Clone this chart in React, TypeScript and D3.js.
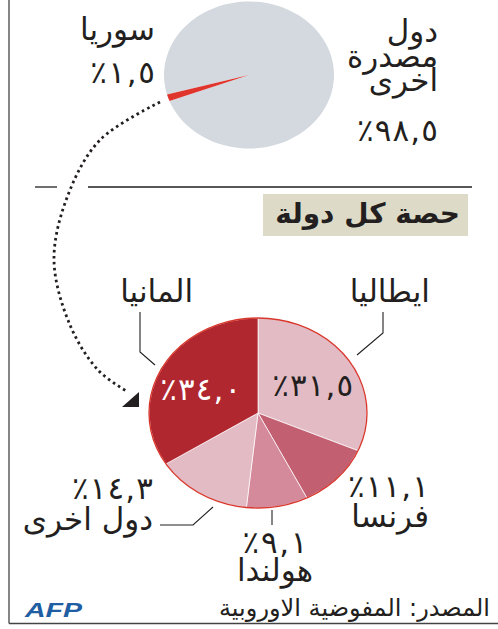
import React from 'react';
import * as d3 from 'd3';

const W = 498;
const H = 629;

// top pie: Syria vs other exporting countries
const overviewLabels = ['دول مصدرة اخرى', 'سوريا'];
const overviewValues = [98.5, 1.5];
const overviewColors = ['#d3d9df', '#e0352c'];

// bottom pie: share of each destination country
const countries = ['ايطاليا', 'فرنسا', 'هولندا', 'دول اخرى', 'المانيا'];
const shares = [31.5, 11.1, 9.1, 14.3, 34.0];
const sliceColors = ['#e3bbc5', '#c26072', '#d58a9b', '#e3bbc5', '#b1272f'];

const title = 'حصة كل دولة';
const source = 'المصدر: المفوضية الاوروبية';

const arabicDigits = '٠١٢٣٤٥٦٧٨٩';
const toArabic = (v: number) =>
  v.toFixed(1).replace('.', ',').replace(/\d/g, (d) => arabicDigits[+d]) + '٪';

const FONT = '"DejaVu Sans", sans-serif';
const INK = '#231f20';

const txt = { fontFamily: FONT, fontSize: 31, fill: INK } as const;

// a label line: plain words, or a percentage spread out like the original typesetting
const Label = ({ x, y, anchor = 'start', t, n = false, fill = INK }:
  { x: number; y: number; anchor?: string; t: string; n?: boolean; fill?: string }) => (
  <text
    x={x}
    y={y}
    direction="rtl"
    textAnchor={anchor}
    style={{ ...txt, fill }}
    {...(n ? { textLength: 16.2 * t.length, lengthAdjust: 'spacing' } : {})}
  >
    {t}
  </text>
);

export default function App() {
  // top ellipse
  const top = { cx: 249, cy: 75, rx: 85, ry: 73.5 };
  const syriaCenter = (252 / 180) * Math.PI;
  const total = d3.sum(overviewValues);
  const before = (overviewValues[0] + overviewValues[1] / 2) / total;
  const s0 = syriaCenter - before * 2 * Math.PI;
  const topPie = d3.pie<number>().sort(null).startAngle(s0).endAngle(s0 + 2 * Math.PI)(overviewValues);
  const topArc = d3.arc<d3.PieArcDatum<number>>().innerRadius(0).outerRadius(top.rx);

  // bottom ellipse
  const bot = { cx: 258, cy: 413, rx: 109, ry: 95 };
  const botPie = d3.pie<number>().sort(null)(shares);
  const botArc = d3.arc<d3.PieArcDatum<number>>().innerRadius(0).outerRadius(bot.rx);
  const inner = d3.arc<d3.PieArcDatum<number>>().innerRadius(0).outerRadius(bot.rx * 1.2);
  const toScreen = ([x, y]: [number, number]) => [bot.cx + x, bot.cy + y * (bot.ry / bot.rx)];

  // dotted connector
  const connector = d3.line().curve(d3.curveCatmullRom.alpha(0.5))([
    [160, 102],
    [100, 140],
    [68, 195],
    [54, 260],
    [70, 325],
    [98, 370],
    [128, 392],
  ]);

  // outside label layout: anchor point, value baseline, name baseline
  const outside: Record<string, { x: number; nameY: number; valY: number; anchor: string }> = {
    'ايطاليا': { x: 430, nameY: 302, valY: 0, anchor: 'start' },
    'المانيا': { x: 193, nameY: 302, valY: 0, anchor: 'start' },
    'فرنسا': { x: 429, nameY: 527, valY: 497, anchor: 'start' },
    'هولندا': { x: 275, nameY: 581, valY: 553, anchor: 'middle' },
    'دول اخرى': { x: 153, nameY: 530, valY: 499, anchor: 'start' },
  };

  const words = overviewLabels[0].split(' ');

  return (
    <svg
      width={W}
      height={H}
      style={{ position: 'absolute', left: 0, top: 0, background: '#fff' }}
    >
      {/* frame */}
      <line x1={9} y1={0} x2={9} y2={623.5} stroke="#444" strokeWidth={1.3} />
      <line x1={9} y1={623.5} x2={W} y2={623.5} stroke="#444" strokeWidth={1.3} />

      {/* top pie */}
      <g transform={`translate(${top.cx},${top.cy}) scale(1,${top.ry / top.rx})`}>
        {topPie.map((d, i) => (
          <path key={overviewLabels[i]} d={topArc(d) ?? ''} fill={overviewColors[i]} />
        ))}
      </g>

      <Label x={155} y={40} t={overviewLabels[1]} />
      <Label x={155} y={83} t={toArabic(overviewValues[1])} n />
      {words.map((w, i) => (
        <Label key={w} x={438} y={42 + i * 24.5} t={w} />
      ))}
      <Label x={438} y={141} t={toArabic(overviewValues[0])} n />

      {/* divider */}
      <line x1={35} y1={187} x2={57} y2={187} stroke={INK} strokeWidth={1.3} />
      <line x1={88} y1={187} x2={472} y2={187} stroke={INK} strokeWidth={1.3} />

      {/* connector */}
      <path
        d={connector ?? ''}
        fill="none"
        stroke={INK}
        strokeWidth={2.8}
        strokeDasharray="2.6 3.4"
      />
      <path d="M122,407 L139,392 L139,407 Z" fill={INK} />

      {/* title */}
      <rect x={263} y={194} width={205} height={42} fill="#dddbc8" />
      <text
        x={460}
        y={223}
        direction="rtl"
        textAnchor="start"
        style={{ ...txt, fontWeight: 'bold', fontSize: 28 }}
      >
        {title}
      </text>

      {/* bottom pie */}
      <g transform={`translate(${bot.cx},${bot.cy}) scale(1,${bot.ry / bot.rx})`}>
        {botPie.map((d, i) => (
          <path
            key={countries[i]}
            d={botArc(d) ?? ''}
            fill={sliceColors[i]}
            stroke="#fff"
            strokeWidth={0.7}
            vectorEffect="non-scaling-stroke"
          />
        ))}
        <ellipse
          cx={0}
          cy={0}
          rx={bot.rx}
          ry={bot.rx}
          fill="none"
          stroke="#d8372c"
          strokeWidth={1.3}
          vectorEffect="non-scaling-stroke"
        />
      </g>

      {/* leader lines */}
      <g fill="none" stroke={INK} strokeWidth={1.1}>
        <polyline points="383,312 383,333 357,355" />
        <polyline points="140,312 140,352 155,365" />
        <polyline points="272,510 272,525" />
        <polyline points="160,525 193,525 213,507" />
      </g>

      {/* values inside the large slices */}
      {botPie.map((d, i) => {
        if (!['ايطاليا', 'المانيا'].includes(countries[i])) return null;
        const [x, y] = toScreen(inner.centroid(d) as [number, number]);
        return (
          <Label
            key={countries[i]}
            x={x}
            y={y + 14}
            anchor="middle"
            t={toArabic(shares[i])}
            n
            fill={i === 4 ? '#fff' : INK}
          />
        );
      })}

      {/* outside labels */}
      {countries.map((c, i) => {
        const p = outside[c];
        return (
          <g key={c}>
            <Label x={p.x} y={p.nameY} anchor={p.anchor} t={c} />
            {p.valY > 0 && (
              <Label x={p.x} y={p.valY} anchor={p.anchor} t={toArabic(shares[i])} n />
            )}
          </g>
        );
      })}

      {/* footer */}
      <text
        x={25}
        y={617}
        textLength={57}
        lengthAdjust="spacingAndGlyphs"
        style={{
          fontFamily: '"Liberation Sans", Arial, sans-serif',
          fontWeight: 'bold',
          fontStyle: 'italic',
          fontSize: 21,
          fill: '#1f5ea3',
        }}
      >
        AFP
      </text>
      <text
        x={490}
        y={616}
        direction="rtl"
        textAnchor="start"
        style={{ ...txt, fontSize: 24 }}
      >
        {source}
      </text>
    </svg>
  );
}
